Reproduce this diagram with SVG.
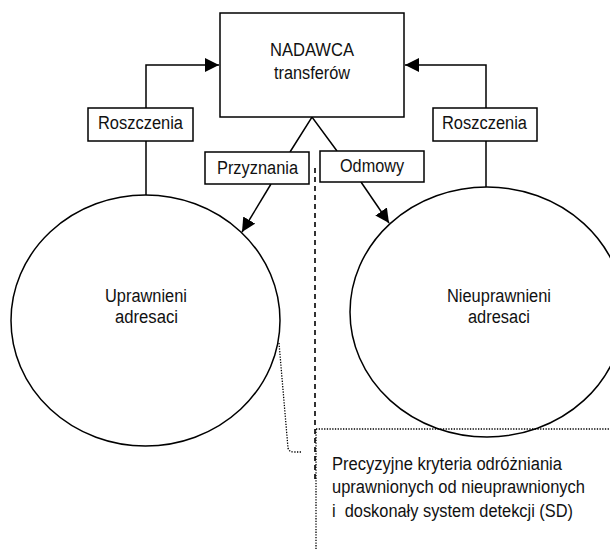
<svg xmlns="http://www.w3.org/2000/svg" width="610" height="549" viewBox="0 0 610 549">
<style>
  .ln{fill:none;stroke:#000;stroke-width:1.5}
  .bx{fill:#fff;stroke:#000;stroke-width:1.5}
  .t{font-family:"Liberation Sans",Arial,sans-serif;font-size:18px;fill:#111}
  .dot{fill:none;stroke:#000;stroke-width:1.3;stroke-dasharray:1.3 1.4}
  .dash{fill:none;stroke:#000;stroke-width:1.6;stroke-dasharray:5 4}
</style>
<defs>
  <marker id="ah" markerUnits="userSpaceOnUse" markerWidth="16" markerHeight="16" viewBox="0 0 16 16" refX="14" refY="7" orient="auto">
    <path d="M0,0 L14,7 L0,14 Z" fill="#000"/>
  </marker>
</defs>
<g id="connectors">
  <path class="ln" d="M146,195 V65 H219" marker-end="url(#ah)"/>
  <path class="ln" d="M486,187 V65 H405" marker-end="url(#ah)"/>
  <path class="ln" d="M290,152 L312,117 L337,151"/>
  <path class="ln" d="M271,184 L242,232" marker-end="url(#ah)"/>
  <path class="ln" d="M361,182 L389,223" marker-end="url(#ah)"/>
  <path class="dash" d="M315,168 V480"/>
  <path class="dot" d="M316,429 V549"/>
  <path class="dot" d="M316,429 H610"/>
  <path class="dot" d="M279,343 L288,448 Q289,452 294,452 H301"/>
</g>
<g id="nadawca">
  <rect class="bx" x="220" y="13" width="184" height="104"/>
  <text class="t" x="270" y="56" textLength="84" lengthAdjust="spacingAndGlyphs">NADAWCA</text>
  <text class="t" x="274" y="79" textLength="76" lengthAdjust="spacingAndGlyphs">transferów</text>
</g>
<g id="roszczenia-left">
  <rect class="bx" x="88" y="108" width="105" height="33"/>
  <text class="t" x="98" y="129" textLength="85" lengthAdjust="spacingAndGlyphs">Roszczenia</text>
</g>
<g id="roszczenia-right">
  <rect class="bx" x="433" y="108" width="104" height="33"/>
  <text class="t" x="442" y="129" textLength="85" lengthAdjust="spacingAndGlyphs">Roszczenia</text>
</g>
<g id="przyznania">
  <rect class="bx" x="205" y="152" width="104" height="32"/>
  <text class="t" x="217" y="174" textLength="81" lengthAdjust="spacingAndGlyphs">Przyznania</text>
</g>
<g id="odmowy">
  <rect class="bx" x="320" y="151" width="104" height="31"/>
  <text class="t" x="340" y="172" textLength="64" lengthAdjust="spacingAndGlyphs">Odmowy</text>
</g>
<g id="uprawnieni">
  <ellipse class="ln" cx="145.5" cy="320.5" rx="134.5" ry="125.5"/>
  <text class="t" x="105" y="302" textLength="82" lengthAdjust="spacingAndGlyphs">Uprawnieni</text>
  <text class="t" x="115" y="323" textLength="63" lengthAdjust="spacingAndGlyphs">adresaci</text>
</g>
<g id="nieuprawnieni">
  <ellipse class="ln" cx="487" cy="312" rx="137" ry="125"/>
  <text class="t" x="447" y="302" textLength="104" lengthAdjust="spacingAndGlyphs">Nieuprawnieni</text>
  <text class="t" x="468" y="323" textLength="62" lengthAdjust="spacingAndGlyphs">adresaci</text>
</g>
<g id="sd">
  <text class="t" x="332" y="470" textLength="230" lengthAdjust="spacingAndGlyphs">Precyzyjne kryteria odróżniania</text>
  <text class="t" x="332" y="493" textLength="253" lengthAdjust="spacingAndGlyphs">uprawnionych od nieuprawnionych</text>
  <text class="t" x="332" y="517" textLength="241" lengthAdjust="spacingAndGlyphs">i&#160; doskonały system detekcji (SD)</text>
</g>
</svg>
